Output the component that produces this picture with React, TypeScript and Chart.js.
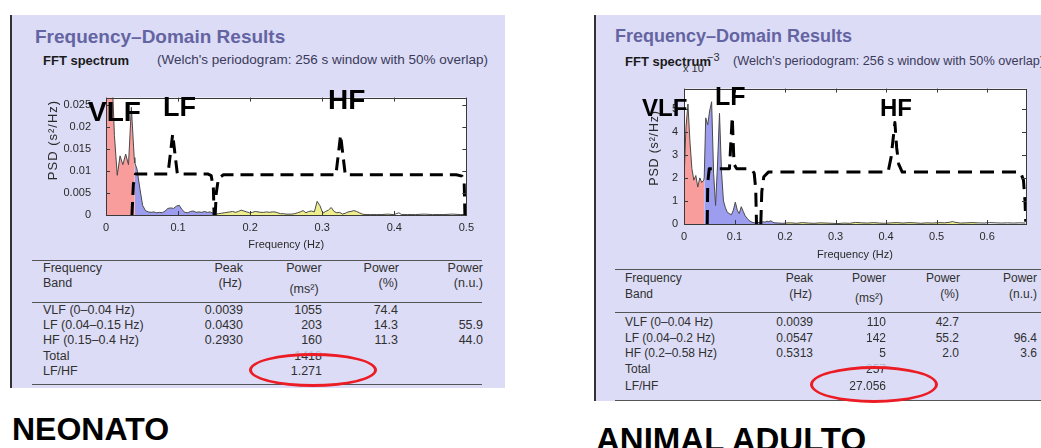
import React, { useEffect, useRef } from "react";
import { Chart, registerables } from "chart.js";
Chart.register(...registerables);

const FONT = "'Liberation Sans', Arial, Helvetica, sans-serif";
const LABEL_FONT = "'Liberation Sans Narrow', 'Liberation Sans', Arial, sans-serif";

// ---------- NEONATO spectrum (Hz, s²/Hz) ----------
const neoFreq = [
  0, 0.0039, 0.0078, 0.0117, 0.0156, 0.0195, 0.0234, 0.0273, 0.0312, 0.0352,
  0.0391, 0.04, 0.043, 0.0469, 0.0508, 0.0547, 0.0586, 0.0625, 0.0664, 0.0703,
  0.0742, 0.0781, 0.082, 0.0859, 0.0898, 0.0938, 0.0977, 0.1016, 0.1055, 0.1094,
  0.1133, 0.1172, 0.1211, 0.125, 0.1289, 0.1328, 0.1367, 0.1406, 0.1445, 0.1484,
  0.15, 0.1523, 0.1563, 0.1602, 0.1641, 0.168, 0.1719, 0.1758, 0.1797, 0.1836,
  0.1875, 0.1914, 0.1953, 0.1992, 0.2031, 0.207, 0.2109, 0.2148, 0.2188, 0.2227,
  0.2266, 0.2305, 0.2344, 0.2383, 0.2422, 0.2461, 0.25, 0.2539, 0.2578, 0.2617,
  0.2656, 0.2695, 0.2734, 0.2773, 0.2813, 0.2852, 0.2891, 0.293, 0.2969, 0.3008,
  0.3047, 0.3086, 0.3125, 0.3164, 0.3203, 0.3242, 0.3281, 0.332, 0.3359, 0.3398,
  0.3438, 0.3477, 0.3516, 0.3555, 0.3594, 0.3672, 0.375, 0.3828, 0.3906, 0.3984,
  0.4, 0.4063, 0.4102, 0.418, 0.4297, 0.4414, 0.4531, 0.4688, 0.4805, 0.4922, 0.5,
];
const neoPsd = [
  0.035, 0.046, 0.034, 0.018, 0.009, 0.0134, 0.0114, 0.0138, 0.0114, 0.0244,
  0.013, 0.0118, 0.0104, 0.0061, 0.0022, 0.001, 0.0007, 0.0006, 0.0007, 0.0005,
  0.0006, 0.0005, 0.0009, 0.0015, 0.0016, 0.0015, 0.002, 0.0022, 0.0012, 0.0006,
  0.0005, 0.0008, 0.0009, 0.0006, 0.0007, 0.0006, 0.0008, 0.0006, 0.0007, 0.0004,
  0.0003, 0.0002, 0.0003, 0.0004, 0.0005, 0.0006, 0.0007, 0.0008, 0.0006, 0.0008,
  0.0011, 0.0009, 0.0007, 0.0005, 0.0006, 0.0008, 0.0007, 0.0006, 0.0006, 0.0007,
  0.0006, 0.0007, 0.0007, 0.0005, 0.0003, 0.0003, 0.0002, 0.0002, 0.0002, 0.0003,
  0.0005, 0.0007, 0.001, 0.0005, 0.0008, 0.0009, 0.0007, 0.0031, 0.0021, 0.0004,
  0.0008, 0.0011, 0.0017, 0.0008, 0.0005, 0.0006, 0.0002, 0.0004, 0.0007, 0.0008,
  0.001, 0.0008, 0.0005, 0.0002, 0.0001, 0.0001, 0.0001, 0.0001, 0.0002, 0.0001,
  0.0001, 0.0005, 0.0001, 0.0001, 0.0001, 0.0002, 0.0001, 0.0001, 0.0002, 0.0001, 0.0001,
];
const neoBandEdges = [0.04, 0.15, 0.4];
const neoLfBracketX = [0.036, 0.038, 0.041, 0.086, 0.0925, 0.099, 0.141, 0.146, 0.149, 0.15];
const neoLfBracketY = [0, 0.007, 0.0093, 0.0093, 0.0183, 0.0093, 0.0093, 0.0089, 0.006, 0];
const neoHfBracketX = [0.1515, 0.153, 0.156, 0.163, 0.319, 0.3255, 0.332, 0.486, 0.494, 0.497, 0.498];
const neoHfBracketY = [0, 0.005, 0.0083, 0.0091, 0.0091, 0.0181, 0.0091, 0.0091, 0.0088, 0.0074, 0];

// ---------- ANIMAL ADULTO spectrum (Hz, ×10⁻³ s²/Hz) ----------
const adultFreq = [
  0, 0.0039, 0.0078, 0.0117, 0.0156, 0.0195, 0.0234, 0.0273, 0.0313, 0.0352,
  0.0391, 0.04, 0.043, 0.0469, 0.0508, 0.0547, 0.0586, 0.0625, 0.0664, 0.0703,
  0.0742, 0.0781, 0.082, 0.0859, 0.0898, 0.0938, 0.0977, 0.1016, 0.1055, 0.1094,
  0.1133, 0.1172, 0.1211, 0.125, 0.1289, 0.1328, 0.1367, 0.1406, 0.1445, 0.1484,
  0.1523, 0.1563, 0.1602, 0.1641, 0.168, 0.1719, 0.1758, 0.1797, 0.1875, 0.1953,
  0.2, 0.2109, 0.2227, 0.2344, 0.2461, 0.2578, 0.2695, 0.2813, 0.293, 0.3047,
  0.3164, 0.3281, 0.3398, 0.3516, 0.3633, 0.375, 0.3867, 0.3984, 0.4102, 0.4219,
  0.4336, 0.4453, 0.457, 0.4688, 0.4805, 0.4922, 0.5039, 0.5156, 0.5273, 0.5313,
  0.5352, 0.5469, 0.5586, 0.5703, 0.58, 0.5938, 0.6055, 0.6172, 0.6289, 0.6406,
  0.6523, 0.6641, 0.6758,
];
const adultPsd = [
  1.9, 4.2, 5.2, 3.6, 2.4, 1.9, 2.1, 1.6, 2.0, 1.8,
  1.9, 2.0, 4.6, 4.3, 4.9, 5.3, 2.2, 0.8, 2.6, 4.8,
  2.3, 1.0, 0.7, 0.5, 0.45, 0.4, 0.6, 0.95, 0.6, 0.45,
  0.75, 0.55, 0.35, 0.25, 0.15, 0.1, 0.06, 0.05, 0.08, 0.06,
  0.05, 0.1, 0.08, 0.12, 0.1, 0.14, 0.08, 0.05, 0.04, 0.03,
  0.04, 0.05, 0.03, 0.06, 0.04, 0.03, 0.05, 0.04, 0.03, 0.02,
  0.04, 0.03, 0.07, 0.05, 0.04, 0.06, 0.04, 0.03, 0.05, 0.06,
  0.04, 0.06, 0.05, 0.03, 0.05, 0.04, 0.06, 0.05, 0.08, 0.11,
  0.08, 0.04, 0.05, 0.06, 0.05, 0.04, 0.06, 0.05, 0.04, 0.05,
  0.04, 0.05, 0.04,
];
const adultBandEdges = [0.04, 0.2, 0.58];
const adultLfBracketX = [0.046, 0.047, 0.05, 0.09, 0.0955, 0.099, 0.104, 0.133, 0.139, 0.142, 0.1435];
const adultLfBracketY = [0, 1.8, 2.4, 2.4, 4.65, 2.6, 2.4, 2.4, 2.2, 1.5, 0];
const adultHfBracketX = [0.152, 0.154, 0.158, 0.167, 0.404, 0.41, 0.4175, 0.421, 0.425, 0.432, 0.666, 0.672, 0.675, 0.6765];
const adultHfBracketY = [0, 1.4, 2.05, 2.25, 2.25, 2.9, 4.4, 3.3, 2.6, 2.25, 2.25, 1.9, 1.0, 0.1];

const bandColors = ["#f89c9c", "#9d9df0", "#eeee8e"];

// ---------- tables ----------
const neoBands = ["VLF (0–0.04 Hz)", "LF (0.04–0.15 Hz)", "HF (0.15–0.4 Hz)"];
const neoPeak = ["0.0039", "0.0430", "0.2930"];
const neoPower = ["1055", "203", "160"];
const neoPct = ["74.4", "14.3", "11.3"];
const neoNu = ["", "55.9", "44.0"];
const neoTotal = "1418";
const neoRatio = "1.271";

const adultBands = ["VLF (0–0.04 Hz)", "LF (0.04–0.2 Hz)", "HF (0.2–0.58 Hz)"];
const adultPeak = ["0.0039", "0.0547", "0.5313"];
const adultPower = ["110", "142", "5"];
const adultPct = ["42.7", "55.2", "2.0"];
const adultNu = ["", "96.4", "3.6"];
const adultTotal = "257";
const adultRatio = "27.056";

const LAV = "#dcdcf6";
const TITLE_C = "#6464a2";

const matlabFrame = {
  id: "matlabFrame",
  beforeDraw(chart: any) {
    const { ctx, chartArea: a } = chart;
    ctx.save();
    ctx.fillStyle = "#ffffff";
    ctx.fillRect(a.left, a.top, a.right - a.left, a.bottom - a.top);
    ctx.restore();
  },
  afterDraw(chart: any) {
    const { ctx, chartArea: a, scales } = chart;
    const tl = 4;
    ctx.save();
    ctx.strokeStyle = "#3a3a3a";
    ctx.lineWidth = 1;
    ctx.beginPath();
    scales.x.ticks.forEach((t: any) => {
      const px = Math.round(scales.x.getPixelForValue(t.value)) + 0.5;
      ctx.moveTo(px, a.bottom);
      ctx.lineTo(px, a.bottom - tl);
      ctx.moveTo(px, a.top);
      ctx.lineTo(px, a.top + tl);
    });
    scales.y.ticks.forEach((t: any) => {
      const py = Math.round(scales.y.getPixelForValue(t.value)) + 0.5;
      ctx.moveTo(a.left, py);
      ctx.lineTo(a.left + tl, py);
      ctx.moveTo(a.right, py);
      ctx.lineTo(a.right - tl, py);
    });
    ctx.stroke();
    ctx.strokeRect(Math.round(a.left) + 0.5, Math.round(a.top) + 0.5, Math.round(a.right - a.left), Math.round(a.bottom - a.top));
    ctx.restore();
  },
};

function Spectrum(p: any) {
  const ref = useRef<HTMLCanvasElement>(null);
  useEffect(() => {
    const { freq, psd, edges } = p;
    const colorAt = (i: number) => {
      const f = freq[i];
      if (f < edges[0]) return bandColors[0];
      if (f < edges[1]) return bandColors[1];
      if (f < edges[2]) return bandColors[2];
      return "rgba(0,0,0,0)";
    };
    const bracket = (xs: number[], ys: number[]) => ({
      data: xs.map((x, i) => ({ x, y: ys[i] })),
      borderColor: "#000",
      borderWidth: 3,
      borderDash: p.dash,
      borderJoinStyle: "round",
      pointRadius: 0,
      fill: false,
      tension: 0,
    });
    const tickFont = { family: FONT, size: 11 };
    const chart = new Chart(ref.current as HTMLCanvasElement, {
      type: "line",
      data: {
        datasets: [
          bracket(p.b1x, p.b1y),
          bracket(p.b2x, p.b2y),
          {
            data: freq.map((x: number, i: number) => ({ x, y: psd[i] })),
            borderColor: "#4a4a4a",
            borderWidth: 1,
            pointRadius: 0,
            tension: 0,
            fill: "origin",
            backgroundColor: "rgba(0,0,0,0)",
            segment: { backgroundColor: (c: any) => colorAt(c.p0DataIndex) },
          },
        ] as any,
      },
      options: {
        responsive: false,
        animation: false,
        layout: { padding: { top: p.padTop, right: p.padRight, left: 0, bottom: 0 } },
        plugins: { legend: { display: false }, tooltip: { enabled: false } },
        scales: {
          x: {
            type: "linear",
            min: 0,
            max: p.xMax,
            grid: { display: false, drawTicks: false },
            border: { display: false },
            ticks: {
              stepSize: 0.1,
              includeBounds: false,
              autoSkip: false,
              maxRotation: 0,
              padding: 6,
              font: tickFont,
              color: "#2a2a2a",
              callback: (v: any) => String(Math.round(Number(v) * 1000) / 1000),
            },
            title: { display: true, text: "Frequency (Hz)", font: tickFont, color: "#2a2a2a", padding: { top: 0, bottom: 4 } },
            afterFit: (s: any) => { s.height = p.xAxisH; },
          },
          y: {
            min: 0,
            max: p.yMax,
            grid: { display: false, drawTicks: false },
            border: { display: false },
            ticks: {
              stepSize: p.yStep,
              includeBounds: false,
              autoSkip: false,
              padding: p.yTickPad,
              font: tickFont,
              color: "#2a2a2a",
              callback: (v: any) => String(Math.round(Number(v) * 10000) / 10000),
            },
            title: { display: false },
            afterFit: (s: any) => { s.width = p.yAxisW; },
          },
        },
      } as any,
      plugins: [matlabFrame],
    });
    return () => chart.destroy();
  }, []);
  return (
    <canvas
      ref={ref}
      width={p.width}
      height={p.height}
      style={{ position: "absolute", left: p.left, top: p.top, width: p.width, height: p.height }}
    />
  );
}

function T({ x, y, s = 12, b = false, a = "left", c = "#303030", f = FONT, r = 0, ls = 0, children }: any) {
  const tx = a === "left" ? "0" : a === "center" ? "-50%" : "-100%";
  return (
    <div
      style={{
        position: "absolute",
        left: x,
        top: y,
        transform: `translate(${tx},-50%)` + (r ? ` rotate(${r}deg)` : ""),
        fontSize: s,
        fontWeight: b ? "bold" : "normal",
        fontFamily: f,
        color: c,
        lineHeight: 1,
        letterSpacing: ls,
        whiteSpace: "nowrap",
      }}
    >
      {children}
    </div>
  );
}

function HLine({ x0, x1, y }: any) {
  return <div style={{ position: "absolute", left: x0, top: y - 0.5, width: x1 - x0, height: 1, background: "#555" }} />;
}

function ResultsTable({ t, d }: any) {
  const s = t.size;
  return (
    <>
      {t.lines.map((y: number, i: number) => <HLine key={i} x0={t.x0} x1={t.x1} y={y} />)}
      <T x={t.label} y={t.h1} s={s}>Frequency</T>
      <T x={t.label} y={t.h2} s={s}>Band</T>
      <T x={t.peak} y={t.h1} s={s} a="right">Peak</T>
      <T x={t.peak - 1} y={t.h2} s={s} a="right">(Hz)</T>
      <T x={t.msC} y={t.h1} s={s} a="center">Power</T>
      <T x={t.msC} y={t.h3} s={s} a="center">(ms²)</T>
      <T x={t.pct + 1} y={t.h1} s={s} a="right">Power</T>
      <T x={t.pct} y={t.h2} s={s} a="right">(%)</T>
      <T x={t.nu} y={t.h1} s={s} a="right">Power</T>
      <T x={t.nu} y={t.h2} s={s} a="right">(n.u.)</T>
      {d.bands.map((b: string, i: number) => (
        <React.Fragment key={i}>
          <T x={t.label} y={t.rows[i]} s={s}>{b}</T>
          <T x={t.peak} y={t.rows[i]} s={s} a="right">{d.peak[i]}</T>
          <T x={t.power} y={t.rows[i]} s={s} a="right">{d.power[i]}</T>
          <T x={t.pct} y={t.rows[i]} s={s} a="right">{d.pct[i]}</T>
          <T x={t.nu} y={t.rows[i]} s={s} a="right">{d.nu[i]}</T>
        </React.Fragment>
      ))}
      <T x={t.label} y={t.rows[3]} s={s}>Total</T>
      <T x={t.power} y={t.rows[3]} s={s} a="right">{d.total}</T>
      <div style={{ position: "absolute", left: t.power - 30, top: t.rows[3] - 7, width: 32, height: 6, background: LAV, opacity: 0.8 }} />
      <T x={t.label} y={t.rows[4]} s={s}>LF/HF</T>
      <T x={t.power} y={t.rows[4]} s={s} a="right">{d.ratio}</T>
      <div
        style={{
          position: "absolute",
          left: t.ell[0] - t.ell[2] / 2,
          top: t.ell[1] - t.ell[3] / 2,
          width: t.ell[2],
          height: t.ell[3],
          border: "3.5px solid #ec1c24",
          borderRadius: "50%",
          boxSizing: "border-box",
        }}
      />
    </>
  );
}

export default function App() {
  return (
    <div style={{ position: "fixed", left: 0, top: 0, width: 1041, height: 448, overflow: "hidden", background: "#fff" }}>
      {/* left panel */}
      <div style={{ position: "absolute", left: 10, top: 15, width: 495, height: 373, background: LAV }} />
      <div style={{ position: "absolute", left: 10, top: 15, width: 2, height: 373, background: "#333" }} />
      {/* right panel */}
      <div style={{ position: "absolute", left: 594, top: 15, width: 447, height: 386, background: LAV }} />
      <div style={{ position: "absolute", left: 594, top: 15, width: 2, height: 386, background: "#333" }} />

      <T x={35} y={36} s={19} b c={TITLE_C}>Frequency–Domain Results</T>
      <T x={43} y={60} s={13} b c="#1a1a1a">FFT spectrum</T>
      <T x={157} y={60} s={13.5} c="#3a3a5a">(Welch's periodogram: 256 s window with 50% overlap)</T>

      <T x={615} y={36} s={18} b c={TITLE_C}>Frequency–Domain Results</T>
      <T x={625} y={61} s={13} b c="#1a1a1a">FFT spectrum</T>
      <T x={733} y={61} s={12.7} c="#3a3a5a">(Welch's periodogram: 256 s window with 50% overlap)</T>
      <T x={683} y={68} s={11} c="#333">x 10</T>
      <T x={707} y={57} s={11} c="#333">−3</T>

      <Spectrum
        left={30} top={76} width={450} height={180}
        freq={neoFreq} psd={neoPsd} edges={neoBandEdges}
        b1x={neoLfBracketX} b1y={neoLfBracketY} b2x={neoHfBracketX} b2y={neoHfBracketY}
        dash={[13, 7]}
        xMax={0.5} yMax={0.0266} yStep={0.005}
        padTop={6} padRight={11} yAxisW={76} xAxisH={41} yTickPad={15}
      />
      <Spectrum
        left={630} top={76} width={406} height={190}
        freq={adultFreq} psd={adultPsd} edges={adultBandEdges}
        b1x={adultLfBracketX} b1y={adultLfBracketY} b2x={adultHfBracketX} b2y={adultHfBracketY}
        dash={[14, 8]}
        xMax={0.677} yMax={5.87} yStep={1}
        padTop={7} padRight={10} yAxisW={54} xAxisH={42} yTickPad={6}
      />

      {/* y-axis titles */}
      <T x={52} y={140} s={13} a="center" r={-90} ls={1} c="#2a2a2a">PSD (s²/Hz)</T>
      <T x={654} y={148} s={12.5} a="center" r={-90} ls={0.8} c="#2a2a2a">PSD (s²/Hz)</T>

      {/* band labels */}
      <T x={88} y={112} s={28} b c="#000" f={LABEL_FONT}>VLF</T>
      <T x={163} y={107} s={27} b c="#000" f={LABEL_FONT}>LF</T>
      <T x={328} y={100} s={28} b c="#000" f={LABEL_FONT}>HF</T>
      <T x={642} y={108} s={24} b c="#000" f={LABEL_FONT}>VLF</T>
      <T x={715} y={96} s={25} b c="#000" f={LABEL_FONT}>LF</T>
      <T x={880} y={108} s={24} b c="#000" f={LABEL_FONT}>HF</T>

      <ResultsTable
        t={{
          x0: 32, x1: 482, lines: [260, 302, 384], size: 12.5,
          label: 43, peak: 243, msC: 304, power: 322, pct: 398, nu: 483,
          h1: 268, h2: 283, h3: 289, rows: [310, 325, 340, 356, 371],
          ell: [313, 370, 128, 34],
        }}
        d={{ bands: neoBands, peak: neoPeak, power: neoPower, pct: neoPct, nu: neoNu, total: neoTotal, ratio: neoRatio }}
      />
      <ResultsTable
        t={{
          x0: 615, x1: 1041, lines: [269, 312, 400], size: 12,
          label: 625, peak: 813, msC: 869, power: 886, pct: 959, nu: 1037,
          h1: 278, h2: 294, h3: 298, rows: [322, 338, 353, 369, 386],
          ell: [874, 384, 128, 37],
        }}
        d={{ bands: adultBands, peak: adultPeak, power: adultPower, pct: adultPct, nu: adultNu, total: adultTotal, ratio: adultRatio }}
      />

      <T x={12} y={429} s={32} b c="#000">NEONATO</T>
      <T x={596} y={439} s={33} b c="#000">ANIMAL ADULTO</T>
    </div>
  );
}
